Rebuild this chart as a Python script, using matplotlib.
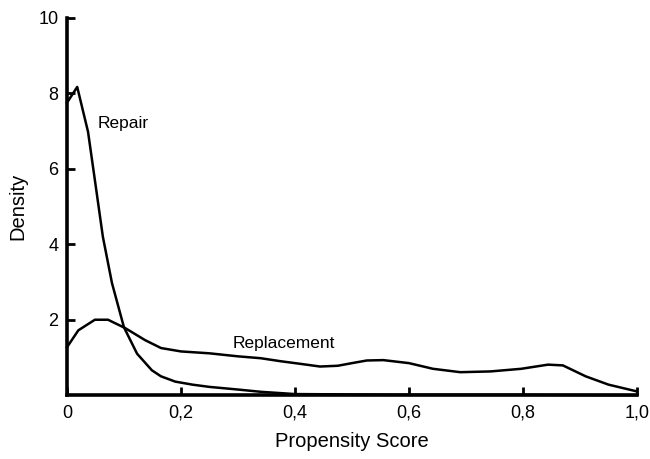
import matplotlib
matplotlib.use("Agg")
import matplotlib.pyplot as plt

plt.rcParams['font.family'] = ['Liberation Sans', 'DejaVu Sans']

# density curves
repair_x = [0, 0.018, 0.037, 0.049, 0.063, 0.079, 0.10, 0.123, 0.149, 0.165,
            0.19, 0.22, 0.25, 0.30, 0.34, 0.40, 0.5, 0.6, 0.8, 1.0]
repair_y = [7.75, 8.17, 6.98, 5.7, 4.2, 2.97, 1.8, 1.1, 0.66, 0.5,
            0.36, 0.28, 0.22, 0.15, 0.09, 0.03, 0.02, 0.01, 0.01, 0.0]

replace_x = [0, 0.02, 0.049, 0.072, 0.102, 0.137, 0.165, 0.2, 0.25, 0.3,
             0.34, 0.375, 0.41, 0.444, 0.475, 0.5, 0.526, 0.555, 0.6, 0.642,
             0.69, 0.743, 0.797, 0.844, 0.87, 0.91, 0.95, 1.0]
replace_y = [1.27, 1.72, 2.0, 2.0, 1.78, 1.46, 1.25, 1.16, 1.11, 1.03,
             0.98, 0.9, 0.83, 0.76, 0.78, 0.85, 0.92, 0.93, 0.85, 0.70,
             0.61, 0.63, 0.70, 0.81, 0.79, 0.50, 0.28, 0.1]

x_ticks = [0, 0.2, 0.4, 0.6, 0.8, 1.0]
x_labels = ['0', '0,2', '0,4', '0,6', '0,8', '1,0']
y_ticks = [2, 4, 6, 8, 10]
y_labels = ['2', '4', '6', '8', '10']

fig = plt.figure(figsize=(6.5, 4.59), dpi=100)
ax = fig.add_axes([0.103, 0.139, 0.877, 0.822])

ax.plot(repair_x, repair_y, color='black', lw=1.8, solid_joinstyle='round', clip_on=False)
ax.plot(replace_x, replace_y, color='black', lw=1.8, solid_joinstyle='round', clip_on=False)

ax.text(0.053, 7.2, 'Repair', fontsize=12.5, ha='left', va='center')
ax.text(0.38, 1.38, 'Replacement', fontsize=12.5, ha='center', va='center')

ax.set_xlim(0, 1.0)
ax.set_ylim(0, 10)
ax.set_xticks(x_ticks)
ax.set_xticklabels(x_labels)
ax.set_yticks(y_ticks)
ax.set_yticklabels(y_labels)
ax.tick_params(direction='in', length=6, width=2, labelsize=13)
ax.tick_params(axis='x', pad=7)
ax.tick_params(axis='y', pad=6)

for s in ['top', 'right']:
    ax.spines[s].set_visible(False)
for s in ['left', 'bottom']:
    ax.spines[s].set_linewidth(2.6)

ax.set_xlabel('Propensity Score', fontsize=14.5, labelpad=7)
ax.set_ylabel('Density', fontsize=14.5, labelpad=8)

fig.savefig('out.png', dpi=100)
